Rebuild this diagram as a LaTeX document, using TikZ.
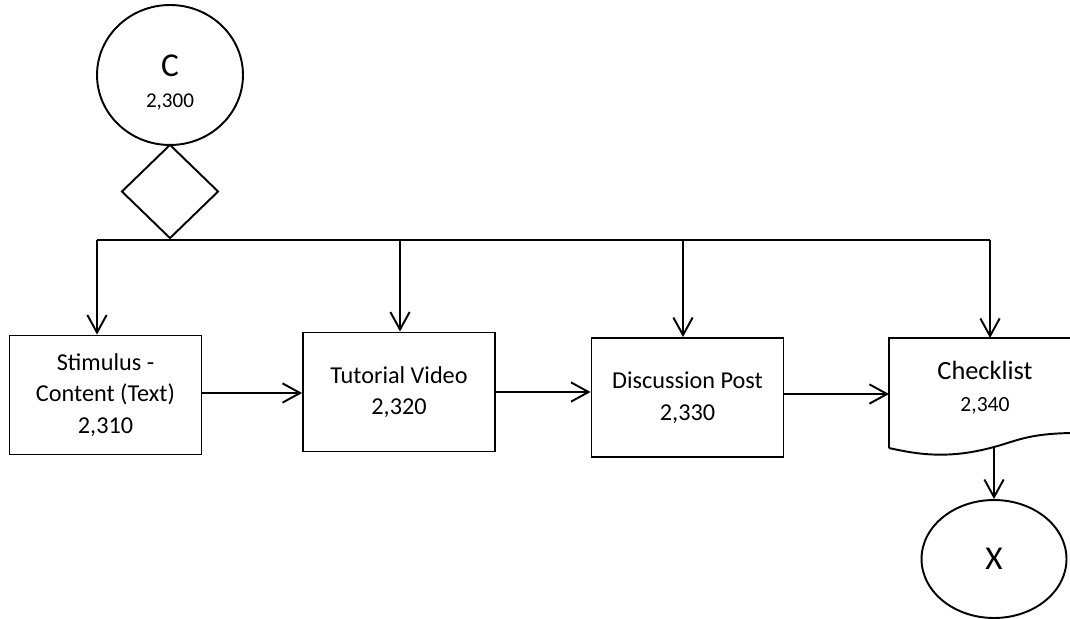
\documentclass[tikz,border=0pt]{standalone}
\usepackage{fontspec}
\setmainfont{Carlito}
\usetikzlibrary{arrows.meta,shapes.geometric}

\tikzset{
  flow/.style={line width=1.1pt},
  arr/.style={flow, -{Straight Barb[length=10pt,width=11pt,line width=1.1pt]}},
  stepbox/.style={flow, draw, align=center, minimum width=3.84cm, minimum height=2.38cm, inner sep=0pt,
    font=\fontsize{13.8}{18}\selectfont},
  term/.style={flow, draw, ellipse, inner sep=0pt}
}

\begin{document}
\begin{tikzpicture}[x=0.02cm, y=-0.02cm]
\useasboundingbox (0, 0) rectangle (1070, 618);
\clip (0, 0) rectangle (1070, 618);
%Start
\node[term, minimum width=2.92cm, minimum height=2.8cm] (start) at (170, 75) {};
\node[font=\fontsize{19}{22}\selectfont] (startname) at (170, 66) {C};
\node[font=\fontsize{12}{14}\selectfont] (startnum) at (170, 102) {2,300};
\node[flow, draw, diamond, minimum width=1.94cm, minimum height=1.88cm, inner sep=0pt] (split) at (170, 191.5) {};
%Bus
\coordinate (b1) at (97, 240);
\coordinate (b2) at (400, 240);
\coordinate (b3) at (683, 240);
\coordinate (b4) at (990, 240);
\draw[flow] (b1) -- (b4);
%Steps
\node[stepbox] (text) at (105.5, 395) {Stimulus -\\Content (Text)\\2,310};
\node[stepbox] (video) at (399, 392) {Tutorial Video\\2,320};
\node[stepbox] (post) at (687.5, 397.5) {Discussion Post\\2,330};
\draw[flow] (889, 448) -- (889, 338) -- (1090, 338) -- (1090, 433)
  .. controls (1030, 432) and (1020, 440) .. (994, 447)
  .. controls (950, 459) and (920, 455) .. (889, 448);
\coordinate (chktop) at (990, 338);
\coordinate (chkleft) at (889, 394);
\coordinate (chkbot) at (994, 447);
\node[align=center, font=\fontsize{15}{18}\selectfont] (chk) at (985, 388) {Checklist\\\fontsize{12.3}{14}\selectfont 2,340};
\node[term, minimum width=2.9cm, minimum height=2.36cm, font=\fontsize{19}{22}\selectfont] (end) at (994, 559) {X};
%Arrows
\draw[arr] (b1) -- (b1 |- text.north);
\draw[arr] (b2) -- (b2 |- video.north);
\draw[arr] (b3) -- (b3 |- post.north);
\draw[arr] (b4) -- (chktop);
\draw[arr] (text.east |- 0, 393) -- (video.west |- 0, 393);
\draw[arr] (video.east |- 0, 392) -- (post.west |- 0, 392);
\draw[arr] (post.east |- 0, 394) -- (chkleft);
\draw[arr] (chkbot) -- (end.north);
\end{tikzpicture}
\end{document}
